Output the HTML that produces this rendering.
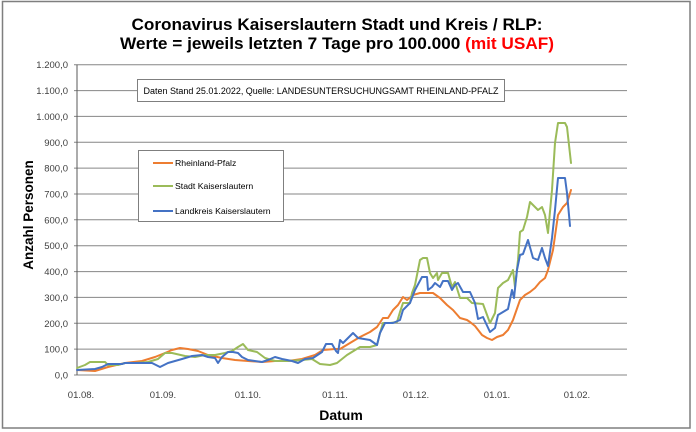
<!DOCTYPE html>
<html><head><meta charset="utf-8"><style>
html,body{margin:0;padding:0;background:#fff;}
svg{display:block;}
text{font-family:"Liberation Sans",Arial,sans-serif;}
</style></head><body>
<svg width="696" height="432" viewBox="0 0 696 432" xmlns="http://www.w3.org/2000/svg">
<rect x="0" y="0" width="696" height="432" fill="#fff"/>
<rect x="2.5" y="1.5" width="687.5" height="426.5" fill="none" stroke="#7f7f7f" stroke-width="1.5"/>
<!-- title -->
<text x="337" y="30" font-size="17" font-weight="bold" text-anchor="middle" textLength="411" lengthAdjust="spacingAndGlyphs" fill="#000">Coronavirus Kaiserslautern Stadt und Kreis / RLP:</text>
<text x="337" y="49" font-size="17" font-weight="bold" text-anchor="middle" textLength="434" lengthAdjust="spacingAndGlyphs" fill="#000">Werte = jeweils letzten 7 Tage pro 100.000 <tspan fill="#ff0000">(mit USAF)</tspan></text>
<!-- gridlines -->
<g stroke="#868686" stroke-width="1">
<line x1="74" y1="64.7" x2="627" y2="64.7"/>
<line x1="74" y1="90.6" x2="627" y2="90.6"/>
<line x1="74" y1="116.4" x2="627" y2="116.4"/>
<line x1="74" y1="142.3" x2="627" y2="142.3"/>
<line x1="74" y1="168.1" x2="627" y2="168.1"/>
<line x1="74" y1="194.0" x2="627" y2="194.0"/>
<line x1="74" y1="219.8" x2="627" y2="219.8"/>
<line x1="74" y1="245.7" x2="627" y2="245.7"/>
<line x1="74" y1="271.6" x2="627" y2="271.6"/>
<line x1="74" y1="297.4" x2="627" y2="297.4"/>
<line x1="74" y1="323.3" x2="627" y2="323.3"/>
<line x1="74" y1="349.1" x2="627" y2="349.1"/>
<line x1="74" y1="375" x2="627" y2="375"/>
</g>
<line x1="77" y1="64.7" x2="77" y2="375" stroke="#595959" stroke-width="1"/>
<!-- y labels -->
<g font-size="9.5" fill="#404040" text-anchor="end">
<text x="68" y="68.2">1.200,0</text>
<text x="68" y="94.1">1.100,0</text>
<text x="68" y="119.9">1.000,0</text>
<text x="68" y="145.8">900,0</text>
<text x="68" y="171.6">800,0</text>
<text x="68" y="197.5">700,0</text>
<text x="68" y="223.3">600,0</text>
<text x="68" y="249.2">500,0</text>
<text x="68" y="275.1">400,0</text>
<text x="68" y="300.9">300,0</text>
<text x="68" y="326.8">200,0</text>
<text x="68" y="352.6">100,0</text>
<text x="68" y="378.5">0,0</text>
</g>
<!-- x labels -->
<g font-size="9.5" fill="#404040" text-anchor="middle">
<text x="81" y="398">01.08.</text>
<text x="163" y="398">01.09.</text>
<text x="248" y="398">01.10.</text>
<text x="335" y="398">01.11.</text>
<text x="416" y="398">01.12.</text>
<text x="497" y="398">01.01.</text>
<text x="577" y="398">01.02.</text>
</g>
<text x="341" y="420" font-size="14" font-weight="bold" text-anchor="middle" fill="#000">Datum</text>
<text transform="translate(33,215) rotate(-90)" font-size="13.5" font-weight="bold" text-anchor="middle" fill="#000">Anzahl Personen</text>
<!-- note box -->
<rect x="137.5" y="79.5" width="367" height="22" fill="#fff" stroke="#7f7f7f" stroke-width="1"/>
<text x="321" y="94" font-size="9" text-anchor="middle" textLength="355" lengthAdjust="spacingAndGlyphs" fill="#000">Daten Stand 25.01.2022, Quelle: LANDESUNTERSUCHUNGSAMT RHEINLAND-PFALZ</text>
<!-- series -->
<g fill="none" stroke-width="2" stroke-linejoin="round" stroke-linecap="round">
<polyline stroke="#ED7D31" points="77,370 95,371 108,367 125,363 142,361 155,357 165,353 172,350 180,348 188,349 198,351 208,355 222,358 235,360 248,361 262,362 275,361 288,361 302,359 315,355 323,350 335,349 340,349 350,343 360,337 370,332 377,327 383,318 388,318 393,310 398,305 403,297 407,300 413,295 420,293 427,293 433,293 440,298 447,305 453,310 460,318 467,320 470,322 475,326 482,335 487,338 492,340 497,337 503,335 508,330 513,320 520,300 525,295 530,292 535,288 540,282 545,278 548,270 553,250 558,215 563,207 567,203 571,190"/>
<polyline stroke="#9BBB59" points="77,368 85,365 90,362 105,362 108,365 118,365 125,363 135,363 148,362 158,359 165,353 172,353 185,356 195,357 205,355 215,355 225,353 232,351 238,347 243,344 248,350 257,352 265,358 275,361 288,361 302,360 312,359 320,364 330,365 337,363 347,355 360,347 370,347 377,345 380,333 383,323 390,323 397,322 400,312 403,303 410,303 412,293 415,285 420,260 423,258 427,258 430,273 433,278 437,273 438,280 442,273 448,273 452,287 455,282 460,298 467,298 472,303 483,304 490,323 495,313 498,288 503,283 508,280 513,270 515,287 518,260 520,232 523,230 527,217 530,202 535,207 538,210 542,207 545,215 548,233 552,190 555,143 558,123 565,123 567,127 571,163"/>
<polyline stroke="#4472C4" points="77,370 95,369 102,367 108,364 122,364 125,363 142,363 152,363 160,367 168,363 182,359 192,356 202,355 208,357 215,358 218,363 222,357 228,352 233,352 238,353 242,357 248,360 262,362 268,360 275,357 282,359 292,361 298,363 305,359 313,358 322,352 326,344 332,344 336,351 338,353 340,340 343,343 353,333 358,338 370,340 377,345 380,333 385,323 393,323 400,320 403,310 410,303 415,290 422,277 427,277 428,290 432,287 435,283 440,287 443,281 448,281 452,290 455,285 458,283 463,292 470,292 475,303 478,319 483,317 490,332 495,328 498,315 503,312 508,309 512,290 514,298 517,270 520,255 523,254 528,240 533,258 538,260 542,248 545,258 548,266 552,238 555,210 558,178 565,178 567,193 570,226"/>
</g>
<!-- legend -->
<rect x="138.5" y="150.5" width="145" height="71" fill="#fff" stroke="#7f7f7f" stroke-width="1"/>
<g stroke-width="2">
<line x1="153" y1="163" x2="173" y2="163" stroke="#ED7D31"/>
<line x1="153" y1="186" x2="173" y2="186" stroke="#9BBB59"/>
<line x1="153" y1="211" x2="173" y2="211" stroke="#4472C4"/>
</g>
<g font-size="8.7" fill="#000">
<text x="175" y="166">Rheinland-Pfalz</text>
<text x="175" y="189">Stadt Kaiserslautern</text>
<text x="175" y="214">Landkreis Kaiserslautern</text>
</g>
</svg>
</body></html>
